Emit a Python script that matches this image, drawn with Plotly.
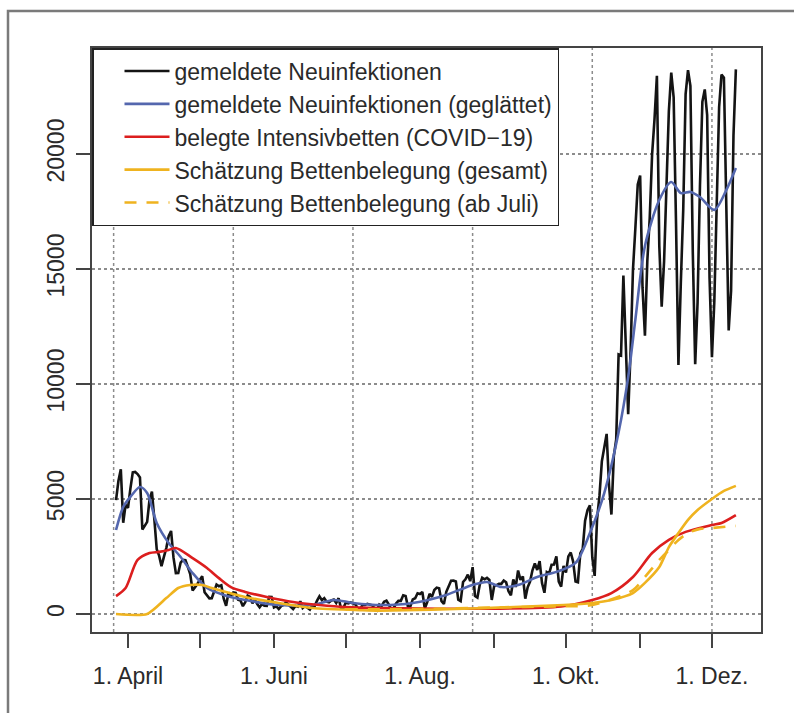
import pandas as pd
import plotly.graph_objects as go

# ---------------- data ----------------
# daily reported new infections, first value plotted at 2020-03-27
inf_start = "2020-03-27"
inf_mar = [4954, 5780, 6294, 3965, 4751]
inf_apr = [4615, 5453, 6156, 6174, 6082, 5936, 3677, 3834, 4003, 4974,
           5323, 4133, 2821, 2537, 2082, 2486, 2866, 3380, 3609, 2458,
           1775, 1785, 2237, 2352, 2337, 2055, 1737, 1018, 1144, 1304]
inf_may = [1478, 1639, 945, 793, 679, 685, 947, 1284, 1209, 1251,
           667, 357, 933, 798, 933, 913, 620, 583, 342, 513,
           797, 745, 460, 638, 431, 289, 432, 362, 353, 741, 738]
inf_jun = [286, 333, 213, 342, 394, 507, 407, 301, 214, 350,
           318, 555, 258, 348, 247, 192, 378, 345, 580, 770,
           601, 687, 537, 503, 587, 630, 477, 687, 256, 262]
inf_jul = [498, 466, 503, 446, 422, 239, 219, 390, 397, 442,
           395, 378, 248, 159, 412, 351, 534, 583, 409, 198,
           252, 454, 569, 570, 815, 781, 305, 340, 633, 684, 902]
inf_aug = [870, 955, 240, 509, 879, 741, 1045, 1147, 1122, 555,
           436, 966, 1226, 1445, 1449, 1415, 625, 561, 1390, 1510,
           1707, 1427, 2034, 782, 711, 1278, 1576, 1507, 1571, 1479, 610]
inf_sep = [1218, 1256, 1311, 1311, 1453, 1378, 988, 814, 1499, 1176,
           1892, 1484, 1630, 667, 1161, 1407, 1901, 2194, 1916, 2297,
           1345, 922, 1821, 1769, 2143, 2153, 2507, 1411, 1192, 2089]
inf_oct = [1798, 2503, 2673, 2279, 1411, 1382, 2639, 2828, 4058, 4516,
           4721, 2467, 1654, 4122, 5132, 6638, 7334, 7830, 5587, 4325,
           6868, 7595, 11287, 11242, 14714, 11176, 8685, 11409, 14964, 16774, 18681]
inf_nov = [19059, 14177, 12097, 15352, 17214, 19990, 21506, 23399, 16017, 13363,
           15332, 18487, 21866, 23542, 22461, 16947, 10824, 14419, 17561, 22609,
           23648, 22964, 15741, 10864, 13554, 18633, 22268, 22806, 21695, 14611]
inf_dec = [11169, 13604, 17270, 22046, 23449, 23318, 17767, 12332, 14054, 20815, 23679]
infections = inf_mar + inf_apr + inf_may + inf_jun + inf_jul + inf_aug + inf_sep + inf_oct + inf_nov + inf_dec
inf_dates = pd.date_range(inf_start, periods=len(infections), freq="D")

# smoothed new infections
smooth_dates = ["2020-03-27", "2020-03-30", "2020-04-02", "2020-04-06", "2020-04-09", "2020-04-13",
                "2020-04-18", "2020-04-23", "2020-04-28", "2020-05-04", "2020-05-11", "2020-05-20",
                "2020-06-03", "2020-06-17", "2020-06-26", "2020-07-04", "2020-07-16", "2020-07-29",
                "2020-08-12", "2020-08-23", "2020-08-29", "2020-09-04", "2020-09-11", "2020-09-19",
                "2020-09-27", "2020-10-05", "2020-10-11", "2020-10-17", "2020-10-23", "2020-10-27",
                "2020-10-30", "2020-11-03", "2020-11-09", "2020-11-14", "2020-11-18", "2020-11-22",
                "2020-11-26", "2020-12-02", "2020-12-07", "2020-12-11"]
smooth_vals = [3650, 4650, 5090, 5520, 5260, 3960,
               3090, 2480, 1780, 1130, 830, 610,
               390, 390, 610, 480, 390, 480,
               830, 1260, 1390, 1170, 1260, 1610,
               1830, 2220, 3520, 5260, 7900, 10300,
               12800, 16000, 18000, 18780, 18300, 18350,
               18130, 17570, 18430, 19390]

# occupied ICU beds (COVID-19)
icu_dates = ["2020-03-27", "2020-03-31", "2020-04-05", "2020-04-10", "2020-04-14", "2020-04-18",
             "2020-04-21", "2020-04-28", "2020-05-04", "2020-05-09", "2020-05-14", "2020-05-20",
             "2020-05-29", "2020-06-09", "2020-06-20", "2020-07-01", "2020-07-15", "2020-08-26",
             "2020-09-29", "2020-10-12", "2020-10-20", "2020-10-29", "2020-11-06", "2020-11-13",
             "2020-11-20", "2020-12-01", "2020-12-05", "2020-12-11"]
icu_vals = [780, 1130, 2350, 2650, 2700, 2780,
            2870, 2430, 2000, 1560, 1170, 960,
            740, 520, 390, 300, 260, 230,
            330, 610, 910, 1610, 2650, 3220,
            3570, 3870, 3960, 4300]

# estimated bed occupancy (total)
est_dates = ["2020-03-27", "2020-04-09", "2020-04-17", "2020-04-22", "2020-04-27", "2020-05-02",
             "2020-05-06", "2020-05-20", "2020-06-03", "2020-06-17", "2020-07-08", "2020-07-15",
             "2020-08-26", "2020-09-30", "2020-10-12", "2020-10-20", "2020-10-29", "2020-11-03",
             "2020-11-09", "2020-11-13", "2020-11-17", "2020-11-21", "2020-11-25", "2020-12-01",
             "2020-12-06", "2020-12-11"]
est_vals = [0, 0, 690, 1130, 1260, 1260,
            1130, 740, 480, 260, 160, 140,
            250, 390, 480, 610, 910, 1350,
            2040, 2910, 3520, 4090, 4520, 5000,
            5350, 5570]

# estimated bed occupancy (from July)
estj_dates = ["2020-07-01", "2020-08-01", "2020-09-01", "2020-09-30", "2020-10-12", "2020-10-29",
              "2020-11-03", "2020-11-09", "2020-11-13", "2020-11-17", "2020-11-21", "2020-11-26",
              "2020-12-01", "2020-12-11"]
estj_vals = [200, 220, 280, 340, 390, 1040,
             1610, 2350, 2780, 3220, 3520, 3700,
             3740, 3830]

# axes
month_ticks = ["2020-04-01", "2020-05-01", "2020-06-01", "2020-07-01", "2020-08-01",
               "2020-09-01", "2020-10-01", "2020-11-01", "2020-12-01"]
month_labels = ["1. April", "", "1. Juni", "", "1. Aug.", "", "1. Okt.", "", "1. Dez."]
grid_dates = ["2020-03-26", "2020-05-15", "2020-07-04", "2020-08-23", "2020-10-12", "2020-12-01"]
y_ticks = [0, 5000, 10000, 15000, 20000]
y_labels = ["0", "5000", "10000", "15000", "20000"]

names = ["gemeldete Neuinfektionen",
         "gemeldete Neuinfektionen (geglättet)",
         "belegte Intensivbetten (COVID\u221219)",
         "Schätzung Bettenbelegung (gesamt)",
         "Schätzung Bettenbelegung (ab Juli)"]

BLACK = "#141414"
BLUE = "#5467ae"
RED = "#dc1e1e"
YEL = "#efb31f"

fig = go.Figure()
fig.add_trace(go.Scatter(x=inf_dates, y=infections, mode="lines", name=names[0],
                         line=dict(color=BLACK, width=2.6)))
fig.add_trace(go.Scatter(x=smooth_dates, y=smooth_vals, mode="lines", name=names[1],
                         line=dict(color=BLUE, width=2.6, shape="spline", smoothing=0.8)))
fig.add_trace(go.Scatter(x=icu_dates, y=icu_vals, mode="lines", name=names[2],
                         line=dict(color=RED, width=2.6, shape="spline", smoothing=0.8)))
fig.add_trace(go.Scatter(x=est_dates, y=est_vals, mode="lines", name=names[3],
                         line=dict(color=YEL, width=2.6, shape="spline", smoothing=0.6)))
fig.add_trace(go.Scatter(x=estj_dates, y=estj_vals, mode="lines", name=names[4],
                         line=dict(color=YEL, width=2.6, dash="12px,10px", shape="spline", smoothing=0.8)))

shapes = []
for d in grid_dates:
    shapes.append(dict(type="line", xref="x", yref="paper", x0=d, x1=d, y0=0, y1=1,
                       layer="below", line=dict(color="#8c8c8c", width=1.5, dash="dot")))
# outer frame of the figure
shapes.append(dict(type="rect", xref="paper", yref="paper",
                   x0=(8 - 92) / 669, x1=(800 - 92) / 669,
                   y0=(632 - 725) / 584, y1=(632 - 11) / 584,
                   line=dict(color="#7a7a7a", width=2.5), fillcolor="rgba(0,0,0,0)"))

fig.update_layout(
    width=794, height=713,
    margin=dict(l=92, r=33, t=48, b=81, pad=0),
    paper_bgcolor="white", plot_bgcolor="white",
    font=dict(family="Liberation Sans, Arial, Helvetica, sans-serif", size=23, color="#2a2a2a"),
    showlegend=True,
    legend=dict(x=0, y=1, xanchor="left", yanchor="top", bgcolor="white",
                bordercolor="#222222", borderwidth=1.5, font=dict(size=23, color="#2a2a2a"),
                itemwidth=45, tracegroupgap=0, indentation=26),
    shapes=shapes,
    xaxis=dict(type="date", range=["2020-03-16 23:00", "2020-12-21 12:00"],
               tickmode="array", tickvals=month_ticks, ticktext=month_labels, tickangle=0,
               ticks="outside", ticklen=14, tickwidth=1.5, tickcolor="#444",
               showline=True, linecolor="#444", linewidth=1.5, mirror=True,
               showgrid=False, zeroline=False, ticklabelstandoff=9),
    yaxis=dict(range=[-783, 24609], tickmode="array", tickvals=y_ticks, ticktext=y_labels,
               tickangle=-90, ticks="outside", ticklen=14, tickwidth=1.5, tickcolor="#444",
               showline=True, linecolor="#444", linewidth=1.5, mirror=True,
               showgrid=True, gridcolor="#8c8c8c", gridwidth=1.5, griddash="dot",
               zeroline=False, ticklabelstandoff=3),
)

fig.write_html("out.html", config={"displayModeBar": False},
               post_script="document.body.style.margin='0';")
